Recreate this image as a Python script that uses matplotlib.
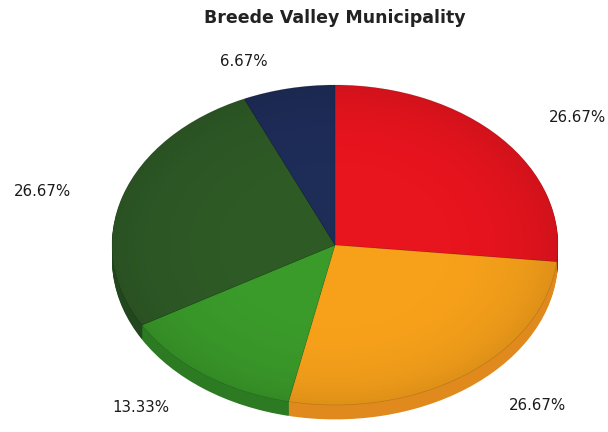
import numpy as np
import matplotlib.pyplot as plt
from matplotlib.patches import Ellipse

# data
labels = ["26.67%", "26.67%", "13.33%", "26.67%", "6.67%"]
values = [26.67, 26.67, 13.33, 26.67, 6.67]
colors = ["#E8141E", "#F7A11B", "#3A9A2A", "#2E5A26", "#1E2C58"]
side_colors = ["#B81018", "#E08A1E", "#2C7A22", "#22461D", "#151F40"]
title = "Breede Valley Municipality"

W, H = 608, 432
CX, CY = 335, 245          # centre of top face, px from top-left
RX, RY = 223, 160          # px per data unit
DEPTH = 0.09

fig = plt.figure(figsize=(W / 100, H / 100), dpi=100)
ax = fig.add_axes([0, 0, 1, 1])

# side of the 3d pie: stacked shifted pies
for d in np.linspace(DEPTH, 0.005, 14):
    ax.pie(values, colors=side_colors, startangle=90, counterclock=False,
           center=(0, -d), radius=1, wedgeprops=dict(linewidth=0))
# top face
wedges, _ = ax.pie(values, colors=colors, startangle=90, counterclock=False,
                   center=(0, 0), radius=1,
                   wedgeprops=dict(linewidth=0.5, edgecolor="#00000025"))

# soft shading towards the rim of the top face
g = np.linspace(-1, 1, 300)
xx, yy = np.meshgrid(g, g)
rr = np.clip(np.hypot(xx, yy), 0, 1)
shade = np.zeros((300, 300, 4))
shade[..., 3] = 0.10 * rr ** 5
im = ax.imshow(shade, extent=(-1, 1, -1, 1), origin="lower", zorder=3,
               interpolation="bilinear")
im.set_clip_path(Ellipse((0, 0), 2, 2, transform=ax.transData))

# label positions
lab_px = [(577, 118), (537, 406), (141, 408), (43, 191), (244, 61)]
for lab, (px, py) in zip(labels, lab_px):
    ax.text((px - CX) / RX, (CY - py) / RY, lab, ha="center", va="center",
            fontsize=10.8, color="#1a1a1a")

ax.text(0, (CY - 18) / RY, title, ha="center", va="center",
        fontsize=12.5, fontweight="bold", color="#222222")

ax.set_aspect("auto")
ax.set_xlim(-CX / RX, (W - CX) / RX)
ax.set_ylim(-(H - CY) / RY, CY / RY)
ax.axis("off")

fig.savefig("out.png", dpi=100)
